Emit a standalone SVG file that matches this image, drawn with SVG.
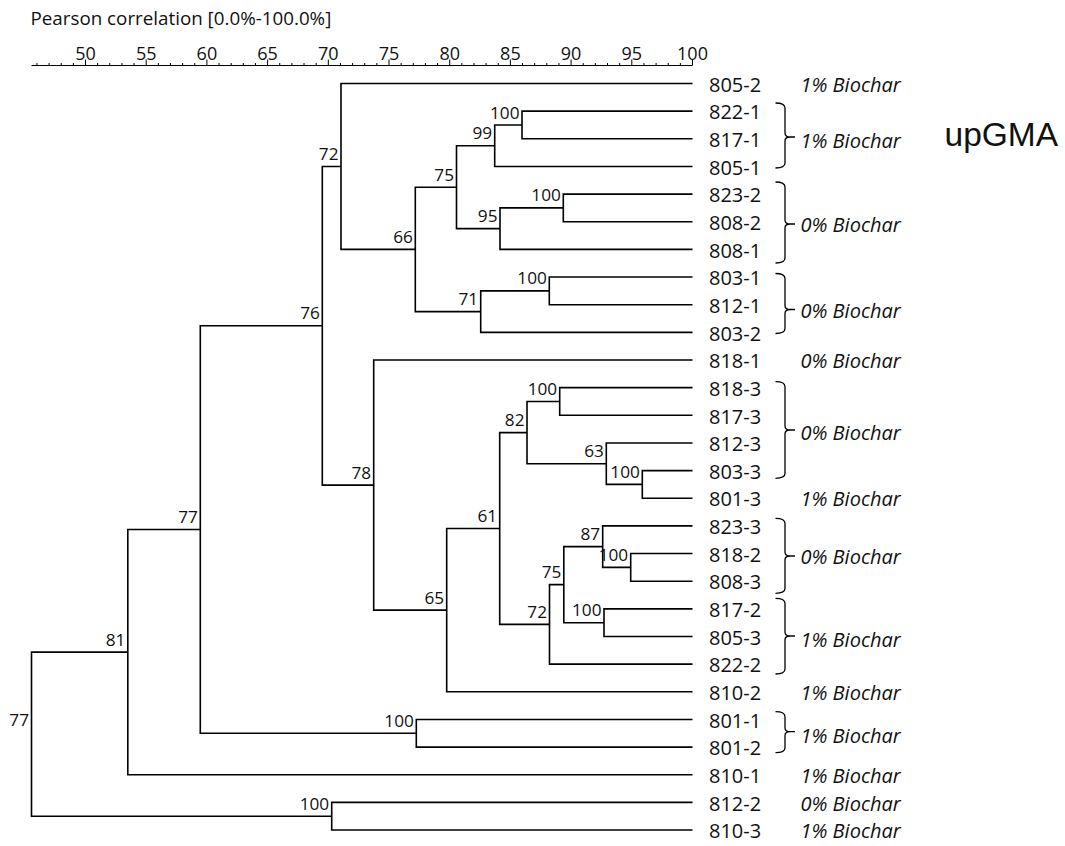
<svg xmlns="http://www.w3.org/2000/svg" width="1065" height="846" viewBox="0 0 1065 846">
<style>
text{font-family:"Open Sans","Noto Sans","Liberation Sans",sans-serif;fill:#111}
.title{font-size:18.8px}
.tick{font-size:18px;text-anchor:middle}
.nl{font-size:17.2px;text-anchor:end}
.leaf{font-size:20px}
.cat{font-size:20px;font-style:italic}
.big{font-family:"Liberation Sans",Arial,sans-serif;font-size:33.5px}
.ln{fill:none;stroke:#000;stroke-width:1.6}
.ax{fill:none;stroke:#000;stroke-width:1}
.br{fill:none;stroke:#000;stroke-width:1.3}
</style>
<rect width="1065" height="846" fill="#fff"/>
<g id="axis">
<text class="title" x="30.5" y="25">Pearson correlation [0.0%-100.0%]</text>
<path class="ax" d="M31.5,65.5H692.5"/>
<path class="ax" d="M85.5,65.5V59.5M146.2,65.5V59.5M206.9,65.5V59.5M267.6,65.5V59.5M328.3,65.5V59.5M389,65.5V59.5M449.7,65.5V59.5M510.4,65.5V59.5M571.1,65.5V59.5M631.8,65.5V59.5M692.5,65.5V59.5"/>
<path class="ax" d="M36.94,65.5V63M49.08,65.5V63M61.22,65.5V63M73.36,65.5V63M97.64,65.5V63M109.78,65.5V63M121.92,65.5V63M134.06,65.5V63M158.34,65.5V63M170.48,65.5V63M182.62,65.5V63M194.76,65.5V63M219.04,65.5V63M231.18,65.5V63M243.32,65.5V63M255.46,65.5V63M279.74,65.5V63M291.88,65.5V63M304.02,65.5V63M316.16,65.5V63M340.44,65.5V63M352.58,65.5V63M364.72,65.5V63M376.86,65.5V63M401.14,65.5V63M413.28,65.5V63M425.42,65.5V63M437.56,65.5V63M461.84,65.5V63M473.98,65.5V63M486.12,65.5V63M498.26,65.5V63M522.54,65.5V63M534.68,65.5V63M546.82,65.5V63M558.96,65.5V63M583.24,65.5V63M595.38,65.5V63M607.52,65.5V63M619.66,65.5V63M643.94,65.5V63M656.08,65.5V63M668.22,65.5V63M680.36,65.5V63"/>
<text class="tick" x="85.5" y="59.5">50</text>
<text class="tick" x="146.2" y="59.5">55</text>
<text class="tick" x="206.9" y="59.5">60</text>
<text class="tick" x="267.6" y="59.5">65</text>
<text class="tick" x="328.3" y="59.5">70</text>
<text class="tick" x="389" y="59.5">75</text>
<text class="tick" x="449.7" y="59.5">80</text>
<text class="tick" x="510.4" y="59.5">85</text>
<text class="tick" x="571.1" y="59.5">90</text>
<text class="tick" x="631.8" y="59.5">95</text>
<text class="tick" x="692.5" y="59.5">100</text>
</g>
<g id="connectors">
<path class="ln" d="M127.8,652.1H31.5V816.2H331.7"/>
<path class="ln" d="M200.3,529.5H127.8V774.75H692.5"/>
<path class="ln" d="M322.3,325.8H200.3V733.3H416.3"/>
<path class="ln" d="M341,166.45H322.3V485.1H373.7"/>
<path class="ln" d="M692.5,83.5H341V249.4H415.3"/>
<path class="ln" d="M456.5,187.2H415.3V311.6H480.7"/>
<path class="ln" d="M494.7,145.7H456.5V228.65H500"/>
<path class="ln" d="M522,124.98H494.7V166.45H692.5"/>
<path class="ln" d="M692.5,111.15H522V138.8H692.5"/>
<path class="ln" d="M563.3,207.9H500V249.4H692.5"/>
<path class="ln" d="M692.5,194.1H563.3V221.75H692.5"/>
<path class="ln" d="M549.3,290.9H480.7V332.35H692.5"/>
<path class="ln" d="M692.5,277.05H549.3V304.7H692.5"/>
<path class="ln" d="M692.5,360H373.7V610.1H446.7"/>
<path class="ln" d="M499.7,528.5H446.7V691.8H692.5"/>
<path class="ln" d="M527,432.6H499.7V624.4H549.5"/>
<path class="ln" d="M559.7,401.5H527V463.7H606.3"/>
<path class="ln" d="M692.5,387.65H559.7V415.3H692.5"/>
<path class="ln" d="M692.5,442.95H606.3V484.4H642.3"/>
<path class="ln" d="M692.5,470.6H642.3V498.25H692.5"/>
<path class="ln" d="M563.8,584.6H549.5V664.15H692.5"/>
<path class="ln" d="M602.7,546.6H563.8V622.7H604"/>
<path class="ln" d="M692.5,525.9H602.7V567.4H630.7"/>
<path class="ln" d="M692.5,553.55H630.7V581.2H692.5"/>
<path class="ln" d="M692.5,608.85H604V636.5H692.5"/>
<path class="ln" d="M692.5,719.45H416.3V747.1H692.5"/>
<path class="ln" d="M692.5,802.4H331.7V830.05H692.5"/>
</g>
<g id="node-labels">
<g id="n-root"><text class="nl" x="29" y="726">77</text></g>
<g id="n81"><text class="nl" x="125.3" y="645.6">81</text></g>
<g id="n77b"><text class="nl" x="197.8" y="523">77</text></g>
<g id="n76"><text class="nl" x="319.8" y="319.3">76</text></g>
<g id="n72t"><text class="nl" x="338.5" y="160">72</text></g>
<g id="n66"><text class="nl" x="412.8" y="242.9">66</text></g>
<g id="n75t"><text class="nl" x="454" y="180.7">75</text></g>
<g id="n99"><text class="nl" x="492.2" y="139.2">99</text></g>
<g id="n100a"><text class="nl" x="519.5" y="118.5">100</text></g>
<g id="n95"><text class="nl" x="497.5" y="222.2">95</text></g>
<g id="n100b"><text class="nl" x="560.8" y="201.4">100</text></g>
<g id="n71"><text class="nl" x="478.2" y="305.1">71</text></g>
<g id="n100c"><text class="nl" x="546.8" y="284.4">100</text></g>
<g id="n78"><text class="nl" x="371.2" y="478.6">78</text></g>
<g id="n65"><text class="nl" x="444.2" y="603.6">65</text></g>
<g id="n61"><text class="nl" x="497.2" y="522">61</text></g>
<g id="n82"><text class="nl" x="524.5" y="426.1">82</text></g>
<g id="n100d"><text class="nl" x="557.2" y="395">100</text></g>
<g id="n63"><text class="nl" x="603.8" y="457.2">63</text></g>
<g id="n100e"><text class="nl" x="639.8" y="477.9">100</text></g>
<g id="n72l"><text class="nl" x="547" y="617.9">72</text></g>
<g id="n75l"><text class="nl" x="561.3" y="578.1">75</text></g>
<g id="n87"><text class="nl" x="600.2" y="540.1">87</text></g>
<g id="n100f"><text class="nl" x="628.2" y="560.9">100</text></g>
<g id="n100g"><text class="nl" x="601.5" y="616.2">100</text></g>
<g id="n100h"><text class="nl" x="413.8" y="726.8">100</text></g>
<g id="n100i"><text class="nl" x="329.2" y="809.7">100</text></g>
</g>
<g id="leaves">
<g id="leaf-805-2"><text class="leaf" x="709" y="91.7">805-2</text><text class="cat" x="800.5" y="91.7">1% Biochar</text></g>
<g id="leaf-822-1"><text class="leaf" x="709" y="119.35">822-1</text></g>
<g id="leaf-817-1"><text class="leaf" x="709" y="147">817-1</text></g>
<g id="leaf-805-1"><text class="leaf" x="709" y="174.65">805-1</text></g>
<g id="leaf-823-2"><text class="leaf" x="709" y="202.3">823-2</text></g>
<g id="leaf-808-2"><text class="leaf" x="709" y="229.95">808-2</text></g>
<g id="leaf-808-1"><text class="leaf" x="709" y="257.6">808-1</text></g>
<g id="leaf-803-1"><text class="leaf" x="709" y="285.25">803-1</text></g>
<g id="leaf-812-1"><text class="leaf" x="709" y="312.9">812-1</text></g>
<g id="leaf-803-2"><text class="leaf" x="709" y="340.55">803-2</text></g>
<g id="leaf-818-1"><text class="leaf" x="709" y="368.2">818-1</text><text class="cat" x="800.5" y="368.2">0% Biochar</text></g>
<g id="leaf-818-3"><text class="leaf" x="709" y="395.85">818-3</text></g>
<g id="leaf-817-3"><text class="leaf" x="709" y="423.5">817-3</text></g>
<g id="leaf-812-3"><text class="leaf" x="709" y="451.15">812-3</text></g>
<g id="leaf-803-3"><text class="leaf" x="709" y="478.8">803-3</text></g>
<g id="leaf-801-3"><text class="leaf" x="709" y="506.45">801-3</text><text class="cat" x="800.5" y="506.45">1% Biochar</text></g>
<g id="leaf-823-3"><text class="leaf" x="709" y="534.1">823-3</text></g>
<g id="leaf-818-2"><text class="leaf" x="709" y="561.75">818-2</text></g>
<g id="leaf-808-3"><text class="leaf" x="709" y="589.4">808-3</text></g>
<g id="leaf-817-2"><text class="leaf" x="709" y="617.05">817-2</text></g>
<g id="leaf-805-3"><text class="leaf" x="709" y="644.7">805-3</text></g>
<g id="leaf-822-2"><text class="leaf" x="709" y="672.35">822-2</text></g>
<g id="leaf-810-2"><text class="leaf" x="709" y="700">810-2</text><text class="cat" x="800.5" y="700">1% Biochar</text></g>
<g id="leaf-801-1"><text class="leaf" x="709" y="727.65">801-1</text></g>
<g id="leaf-801-2"><text class="leaf" x="709" y="755.3">801-2</text></g>
<g id="leaf-810-1"><text class="leaf" x="709" y="782.95">810-1</text><text class="cat" x="800.5" y="782.95">1% Biochar</text></g>
<g id="leaf-812-2"><text class="leaf" x="709" y="810.6">812-2</text><text class="cat" x="800.5" y="810.6">0% Biochar</text></g>
<g id="leaf-810-3"><text class="leaf" x="709" y="838.25">810-3</text><text class="cat" x="800.5" y="838.25">1% Biochar</text></g>
</g>
<g id="groups">
<g id="grp1"><path class="br" d="M775.5,103Q785,103 785,108V133Q785,137 790,137H795M790,137Q785,137 785,141V163Q785,168 775.5,168"/><text class="cat" x="800.5" y="148.3">1% Biochar</text></g>
<g id="grp2"><path class="br" d="M775.5,182Q785,182 785,187V220Q785,224 790,224H795M790,224Q785,224 785,228V258Q785,263 775.5,263"/><text class="cat" x="800.5" y="231.7">0% Biochar</text></g>
<g id="grp3"><path class="br" d="M775.5,273.5Q785,273.5 785,278.5V305.5Q785,309.5 790,309.5H795M790,309.5Q785,309.5 785,313.5V328.5Q785,333.5 775.5,333.5"/><text class="cat" x="800.5" y="318.3">0% Biochar</text></g>
<g id="grp4"><path class="br" d="M775.5,381.7Q785,381.7 785,386.7V426Q785,430 790,430H795M790,430Q785,430 785,434V473.3Q785,478.3 775.5,478.3"/><text class="cat" x="800.5" y="440">0% Biochar</text></g>
<g id="grp5"><path class="br" d="M775.5,518.3Q785,518.3 785,523.3V552Q785,556 790,556H795M790,556Q785,556 785,560V588.3Q785,593.3 775.5,593.3"/><text class="cat" x="800.5" y="564">0% Biochar</text></g>
<g id="grp6"><path class="br" d="M775.5,598.3Q785,598.3 785,603.3V632Q785,636 790,636H795M790,636Q785,636 785,640V669Q785,674 775.5,674"/><text class="cat" x="800.5" y="646.7">1% Biochar</text></g>
<g id="grp7"><path class="br" d="M775.5,711.7Q785,711.7 785,716.7V727.7Q785,731.7 790,731.7H795M790,731.7Q785,731.7 785,735.7V747.7Q785,752.7 775.5,752.7"/><text class="cat" x="800.5" y="742.7">1% Biochar</text></g>
</g>
<g id="method"><text class="big" x="944.5" y="146">upGMA</text></g>
</svg>
